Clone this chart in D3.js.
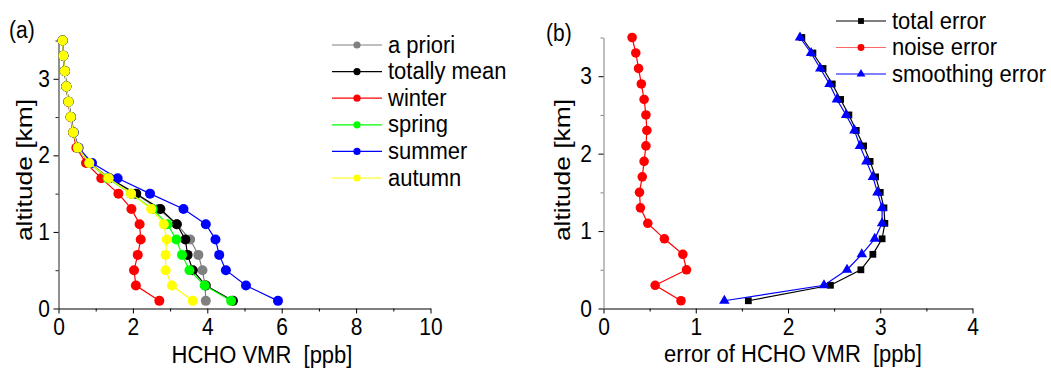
<!DOCTYPE html>
<html>
<head>
<meta charset="utf-8">
<script src="https://cdn.jsdelivr.net/npm/d3@7"></script>
<style>
  body { margin: 0; background: #fff; }
  svg { display: block; font-family: "Liberation Sans", Arial, sans-serif; }
  text { white-space: pre; }
</style>
</head>
<body>
<svg id="chart" width="1051" height="373"></svg>
<script>
// Retrieval altitude grid (km)
const altitudes = [0.1, 0.3, 0.5, 0.7, 0.9, 1.1, 1.3, 1.5, 1.7, 1.9, 2.1, 2.3, 2.5, 2.7, 2.9, 3.1, 3.3, 3.5];

// (a) HCHO VMR profiles (ppb)
const aPriori = [3.96, 3.94, 3.87, 3.76, 3.54, 3.18, 2.69, 2.06, 1.35, 0.83, 0.52, 0.40, 0.33, 0.27, 0.21, 0.17, 0.13, 0.11];
const totallyMean = [4.69, 3.96, 3.61, 3.47, 3.41, 3.18, 2.74, 2.09, 1.37, 0.83, 0.52, 0.40, 0.33, 0.27, 0.21, 0.17, 0.13, 0.11];
const winter = [2.71, 2.08, 2.03, 2.13, 2.21, 2.18, 1.96, 1.61, 1.15, 0.74, 0.48, 0.39, 0.32, 0.26, 0.21, 0.17, 0.13, 0.11];
const spring = [4.64, 3.93, 3.52, 3.32, 3.17, 2.93, 2.53, 1.95, 1.32, 0.83, 0.52, 0.40, 0.33, 0.27, 0.21, 0.17, 0.13, 0.11];
const summer = [5.90, 5.04, 4.50, 4.32, 4.22, 3.96, 3.36, 2.46, 1.59, 0.90, 0.54, 0.41, 0.34, 0.27, 0.21, 0.17, 0.13, 0.11];
const autumn = [3.61, 3.05, 2.88, 2.88, 2.91, 2.83, 2.49, 1.95, 1.35, 0.83, 0.52, 0.40, 0.33, 0.27, 0.21, 0.17, 0.13, 0.11];

// (b) error budget (ppb)
const totalError = [1.57, 2.46, 2.79, 2.92, 3.02, 3.05, 3.04, 3.00, 2.95, 2.89, 2.82, 2.74, 2.66, 2.57, 2.48, 2.38, 2.27, 2.15];
const noiseError = [0.84, 0.56, 0.90, 0.86, 0.66, 0.48, 0.40, 0.39, 0.42, 0.44, 0.46, 0.47, 0.46, 0.44, 0.41, 0.38, 0.35, 0.31];
const smoothingError = [1.31, 2.39, 2.64, 2.80, 2.94, 3.02, 3.02, 2.97, 2.92, 2.85, 2.78, 2.72, 2.63, 2.53, 2.45, 2.35, 2.25, 2.13];

// Tick values
const profileXTicks = [0, 2, 4, 6, 8, 10];
const profileXMinor = [1, 3, 5, 7, 9];
const errorXTicks = [0, 1, 2, 3, 4];
const errorXMinor = [0.5, 1.5, 2.5, 3.5];
const altTicks = [0, 1, 2, 3];
const altMinor = [0.5, 1.5, 2.5, 3.5];

const profileSeries = [
  { name: "a priori", values: aPriori, color: "#808080" },
  { name: "totally mean", values: totallyMean, color: "#000000" },
  { name: "winter", values: winter, color: "#ff0000" },
  { name: "spring", values: spring, color: "#00ff00" },
  { name: "summer", values: summer, color: "#0000ff" },
  { name: "autumn", values: autumn, color: "#ffff00" }
];
const errorSeries = [
  { name: "total error", values: totalError, color: "#000000", symbol: d3.symbolSquare, size: 46, legendSize: 34 },
  { name: "noise error", values: noiseError, color: "#ff0000", symbol: d3.symbolCircle, size: 72, legendSize: 38 },
  { name: "smoothing error", values: smoothingError, color: "#0000ff", symbol: d3.symbolTriangle, size: 48, legendSize: 34 }
];

const SY = 1.12;       // vertical glyph stretch used for all labels
const FONT = 21;

const svg = d3.select("#chart");

function label(g, x, y, str, anchor, size) {
  return g.append("text")
    .attr("transform", `translate(${x},${y}) scale(1,${SY})`)
    .attr("text-anchor", anchor || "start")
    .attr("font-size", size || FONT)
    .attr("fill", "#000")
    .text(str);
}

function drawAxes(x, y, opts) {
  const x0 = x.range()[0], y0 = y.range()[0];
  // bottom axis: major + minor ticks
  const bx = svg.append("g").attr("transform", `translate(0,${y0})`)
    .call(d3.axisBottom(x).tickValues(opts.xTicks).tickSize(5).tickSizeOuter(0).tickFormat(d3.format("d")));
  svg.append("g").attr("transform", `translate(0,${y0})`)
    .call(d3.axisBottom(x).tickValues(opts.xMinor).tickSize(3).tickSizeOuter(0).tickFormat(""))
    .select(".domain").remove();
  bx.selectAll("path,line").attr("stroke", "#000");
  bx.selectAll("text")
    .attr("y", null).attr("dy", null)
    .attr("transform", `translate(0,${opts.xLabelY}) scale(1,${SY})`)
    .attr("font-size", FONT).attr("font-family", null).attr("fill", "#000");

  // left axis
  const ly = svg.append("g").attr("transform", `translate(${x0},0)`)
    .call(d3.axisLeft(y).tickValues(altTicks).tickSize(5).tickSizeOuter(0).tickFormat(d3.format("d")));
  const lyMinor = svg.append("g").attr("transform", `translate(${x0},0)`)
    .call(d3.axisLeft(y).tickValues(altMinor).tickSize(3).tickSizeOuter(0).tickFormat(""));
  lyMinor.select(".domain").remove();
  lyMinor.selectAll("line").attr("stroke", opts.yColor);
  ly.selectAll("path,line").attr("stroke", opts.yColor);
  ly.selectAll(".tick line").attr("stroke", "#000");
  ly.selectAll("text")
    .attr("x", null).attr("dy", null)
    .attr("transform", `translate(${opts.yLabelX},7.5) scale(1,${SY})`)
    .attr("font-size", FONT).attr("font-family", null).attr("fill", "#000");

  // axis titles
  label(svg, opts.xTitleX, opts.xTitleY, opts.xTitle, "middle", 22);
  svg.append("text")
    .attr("transform", `translate(${opts.yTitleX},${opts.yTitleY}) rotate(-90) scale(1.2,1)`)
    .attr("text-anchor", "middle")
    .attr("dy", "0.35em")
    .attr("font-size", 22)
    .text("altitude [km]");
  label(svg, opts.tagX, opts.tagY, opts.tag, "start", 21);
}

// ---------- (a) HCHO VMR profiles ----------
const xa = d3.scaleLinear().domain([0, 10]).range([58.5, 430.5]);
const ya = d3.scaleLinear().domain([0, 3.5]).range([308.5, 40.5]);

drawAxes(xa, ya, {
  xTicks: profileXTicks, xMinor: profileXMinor, xLabelY: 26.5, yLabelX: -8.5,
  yColor: "#222", xTitle: "HCHO VMR  [ppb]", xTitleX: 262, xTitleY: 363,
  yTitleX: 24, yTitleY: 170, tag: "(a)", tagX: 9, tagY: 38
});

const lineA = d3.line().x(d => xa(d[0])).y(d => ya(d[1]));
profileSeries.forEach(s => {
  const pts = s.values.map((v, i) => [v, altitudes[i]]);
  svg.append("path").datum(pts)
    .attr("d", lineA).attr("fill", "none")
    .attr("stroke", s.color).attr("stroke-width", 1.2);
  svg.append("g").selectAll("circle").data(pts).join("circle")
    .attr("cx", d => xa(d[0])).attr("cy", d => ya(d[1]))
    .attr("r", 5).attr("fill", s.color);
});

// legend (a)
const legA = svg.append("g");
profileSeries.forEach((s, i) => {
  const yy = 45 + i * 26.6;
  legA.append("line").attr("x1", 332).attr("x2", 382).attr("y1", yy).attr("y2", yy)
    .attr("stroke", s.color).attr("stroke-width", 1.2);
  legA.append("circle").attr("cx", 357).attr("cy", yy).attr("r", 3.6).attr("fill", s.color);
  label(legA, 388, yy + 7.5, s.name, "start", 22);
});

// ---------- (b) error profiles ----------
const xb = d3.scaleLinear().domain([0, 4]).range([603.5, 972.5]);
const yb = d3.scaleLinear().domain([0, 3.5]).range([308.5, 37.5]);

drawAxes(xb, yb, {
  xTicks: errorXTicks, xMinor: errorXMinor, xLabelY: 26.5, yLabelX: -11.5,
  yColor: "#808080", xTitle: "error of HCHO VMR  [ppb]", xTitleX: 793, xTitleY: 362,
  yTitleX: 562, yTitleY: 170, tag: "(b)", tagX: 546, tagY: 41
});

const lineB = d3.line().x(d => xb(d[0])).y(d => yb(d[1]));
errorSeries.forEach(s => {
  const pts = s.values.map((v, i) => [v, altitudes[i]]);
  svg.append("path").datum(pts)
    .attr("d", lineB).attr("fill", "none")
    .attr("stroke", s.color).attr("stroke-width", 1.2);
  svg.append("g").selectAll("path").data(pts).join("path")
    .attr("transform", d => `translate(${xb(d[0])},${yb(d[1])})`)
    .attr("d", d3.symbol(s.symbol, s.size)).attr("fill", s.color);
});

// legend (b)
const legB = svg.append("g");
errorSeries.forEach((s, i) => {
  const yy = 21 + i * 26.5;
  legB.append("line").attr("x1", 836).attr("x2", 886).attr("y1", yy).attr("y2", yy)
    .attr("stroke", s.color).attr("stroke-width", 1.2).attr("stroke-opacity", s.name === "noise error" ? 0.6 : 1);
  legB.append("path").attr("transform", `translate(861,${yy})`)
    .attr("d", d3.symbol(s.symbol, s.legendSize)).attr("fill", s.color);
  label(legB, 892, yy + 7.5, s.name, "start", 22);
});
</script>
</body>
</html>
